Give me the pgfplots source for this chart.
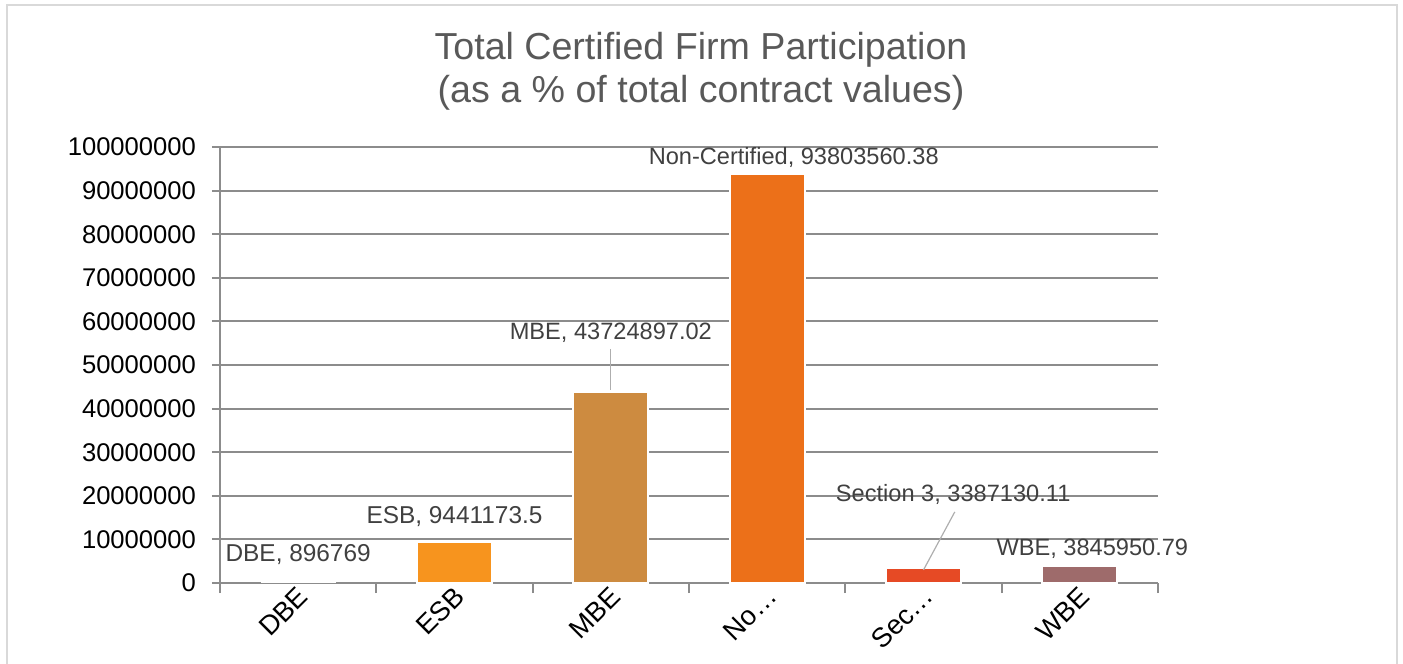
\documentclass[border=0pt]{standalone}
\usepackage{pgfplots}
\pgfplotsset{compat=1.18}
\usepackage{fontspec}
\setmainfont{Liberation Sans}
\definecolor{gridgray}{HTML}{8C8C8C}
\definecolor{framegray}{HTML}{D9D9D9}
\definecolor{labelgray}{HTML}{404040}
\definecolor{titlegray}{HTML}{595959}
\definecolor{cESB}{HTML}{F7941E}
\definecolor{cMBE}{HTML}{CD8B40}
\definecolor{cNC}{HTML}{EC7019}
\definecolor{cSEC}{HTML}{E64A25}
\definecolor{cWBE}{HTML}{9E6B6B}
\begin{document}
\begin{tikzpicture}[x=1pt,y=1pt]
\useasboundingbox (0,0) rectangle (701.5,332);
\draw[framegray, line width=1pt] (3.5,-5) -- (3.5,329.5) -- (698.5,329.5) -- (698.5,-5);
\node[titlegray, font=\fontsize{18.8}{21}\selectfont] at (350.5,307) {Total Certified Firm Participation};
\node[titlegray, font=\fontsize{18.8}{21}\selectfont] at (350.5,285.5) {(as a \% of total contract values)};
\begin{axis}[
  at={(110pt,40.5pt)}, anchor=south west,
  scale only axis, width=469pt, height=218pt,
  xmin=-0.5, xmax=5.5, ymin=0, ymax=100000000,
  axis lines=left, axis line style={-, gridgray, line width=1pt},
  ymajorgrids, grid style={gridgray, line width=1pt},
  ytick={0,10000000,20000000,30000000,40000000,50000000,60000000,70000000,80000000,90000000,100000000},
  scaled y ticks=false,
  yticklabel style={/pgf/number format/fixed, /pgf/number format/1000 sep={}, /pgf/number format/assume math mode=true, font=\fontsize{12.8}{14}\selectfont, black, xshift=-4.5pt},
  xtick={0,1,2,3,4,5},
  xticklabels={DBE,ESB,MBE,{No…},{Sec…},WBE},
  minor xtick={-0.5,0.5,1.5,2.5,3.5,4.5,5.5},
  xticklabel style={rotate=45, anchor=east, font=\fontsize{13.6}{15}\selectfont, black, xshift=5pt, yshift=-2pt},
  tick align=outside,
  major tick length=4pt, minor tick length=5pt,
  tick style={gridgray, line width=1pt},
  every major x tick/.append style={draw=none},
  clip=false,
  every axis plot/.append style={ybar, bar width=37.5pt, bar shift=0pt, draw=white, line width=1pt},
]
\addplot[fill=white, draw=none] coordinates {(0,896769)};
\addplot[fill=cESB] coordinates {(1,9441173.5)};
\addplot[fill=cMBE] coordinates {(2,43724897.02)};
\addplot[fill=cNC] coordinates {(3,93803560.38)};
\addplot[fill=cSEC] coordinates {(4,3387130.11)};
\addplot[fill=cWBE] coordinates {(5,3845950.79)};
\begin{scope}[every node/.style={labelgray, font=\fontsize{11.8}{13}\selectfont}]
\node[font=\fontsize{12.2}{14}\selectfont] at (axis cs:0,6420000) {DBE, 896769};
\node[font=\fontsize{12.2}{14}\selectfont] at (axis cs:1,15140000) {ESB, 9441173.5};
\node at (axis cs:2,57300000) {MBE, 43724897.02};
\node at (axis cs:3.17,97700000) {Non-Certified, 93803560.38};
\node at (axis cs:4.19,20400000) {Section 3, 3387130.11};
\node at (axis cs:5.08,7800000) {WBE, 3845950.79};
\end{scope}
\draw[gridgray!70, line width=0.6pt] (axis cs:2,53700000) -- (axis cs:2,44200000);
\draw[gridgray!70, line width=0.6pt] (axis cs:4.2,16300000) -- (axis cs:4.0,3000000);
\end{axis}
\end{tikzpicture}
\end{document}
